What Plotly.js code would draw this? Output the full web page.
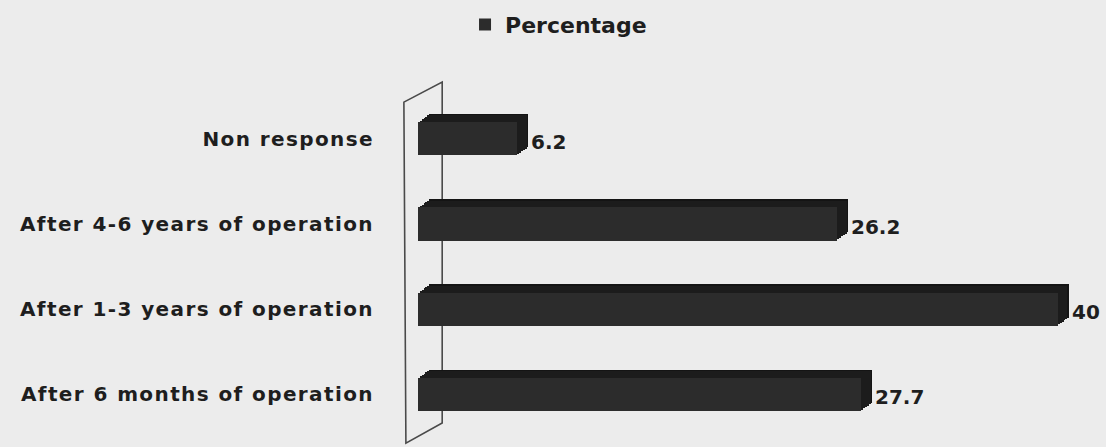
<!DOCTYPE html>
<html>
<head>
<meta charset="utf-8">
<script src="https://cdn.plot.ly/plotly-3.0.1.min.js"></script>
<style>
  html, body { margin: 0; padding: 0; background: #ececec; }
  #chart { width: 1106px; height: 447px; }
  /* looser tracking for the category labels */
  #chart .ytick text { letter-spacing: 1.4px; }
</style>
</head>
<body>
<div id="chart"></div>
<script>
// Categories listed bottom to top, as Plotly stacks a category axis upward
const categories = [
  "After 6 months of operation",
  "After 1-3 years of operation",
  "After 4-6 years of operation",
  "Non response"
];
const percentage = [27.7, 40, 26.2, 6.2];
const seriesName = "Percentage";

const FONT = "DejaVu Sans, Verdana, sans-serif";

// Pseudo-3D box: a few darker layers behind the front face, each nudged
// right and up, so the top and side faces show as a stepped bevel.
const BAR_W = 0.39;        // front face thickness (category units)
const DEPTH_X = 0.7;       // horizontal depth (value units)
const DEPTH_Y = 0.095;     // vertical depth (category units)
const STEPS = 6;

const traces = [];
for (let s = STEPS; s >= 1; s--) {
  const f = s / STEPS;
  traces.push({
    type: "bar",
    orientation: "h",
    y: categories,
    x: percentage,
    base: DEPTH_X * f,
    width: BAR_W,
    offset: -BAR_W / 2 + DEPTH_Y * f,
    marker: { color: s === STEPS ? "#141414" : "#1c1c1c", line: { width: 0 } },
    showlegend: false,
    hoverinfo: "skip"
  });
}
traces.push({
  type: "bar",
  orientation: "h",
  name: seriesName,
  y: categories,
  x: percentage,
  width: BAR_W,
  offset: -BAR_W / 2,
  marker: { color: "#2c2c2c", line: { width: 0 } }
});

// Value labels just past each bar's side face
const annotations = categories.map((c, i) => ({
  x: percentage[i],
  y: c,
  xref: "x",
  yref: "y",
  text: String(percentage[i]),
  showarrow: false,
  xanchor: "left",
  yanchor: "middle",
  xshift: 12,
  yshift: -3,
  font: { family: FONT, size: 20, color: "#1e1e1e", weight: 700 }
}));

// Back wall of the 3D frame, drawn in plot-area fractions
const wall = {
  type: "path",
  xref: "paper",
  yref: "paper",
  path: "M -0.021 0.982 L 0.036 1.041 L 0.036 0.041 L -0.018 -0.018 Z",
  line: { color: "#4a4a4a", width: 1.6 },
  fillcolor: "rgba(0,0,0,0)",
  layer: "below"
};

const layout = {
  width: 1106,
  height: 447,
  paper_bgcolor: "#ececec",
  plot_bgcolor: "rgba(0,0,0,0)",
  margin: { l: 418, r: 16, t: 96, b: 10 },
  barmode: "overlay",
  bargap: 0,
  showlegend: true,
  legend: {
    orientation: "h",
    xref: "container",
    yref: "container",
    x: 0.505,
    xanchor: "center",
    y: 0.945,
    yanchor: "middle",
    itemwidth: 30,
    font: { family: FONT, size: 22, color: "#1e1e1e", weight: 700 },
    bgcolor: "rgba(0,0,0,0)"
  },
  xaxis: {
    range: [0, 42],
    visible: false,
    fixedrange: true
  },
  yaxis: {
    type: "category",
    categoryorder: "array",
    categoryarray: categories,
    range: [-0.5, 3.5],
    showgrid: false,
    zeroline: false,
    showline: false,
    ticks: "",
    ticklabelstandoff: 43,
    tickfont: { family: FONT, size: 20, color: "#1e1e1e", weight: 700 },
    fixedrange: true
  },
  shapes: [wall],
  annotations: annotations
};

Plotly.newPlot("chart", traces, layout, { displayModeBar: false, staticPlot: true });
</script>
</body>
</html>
